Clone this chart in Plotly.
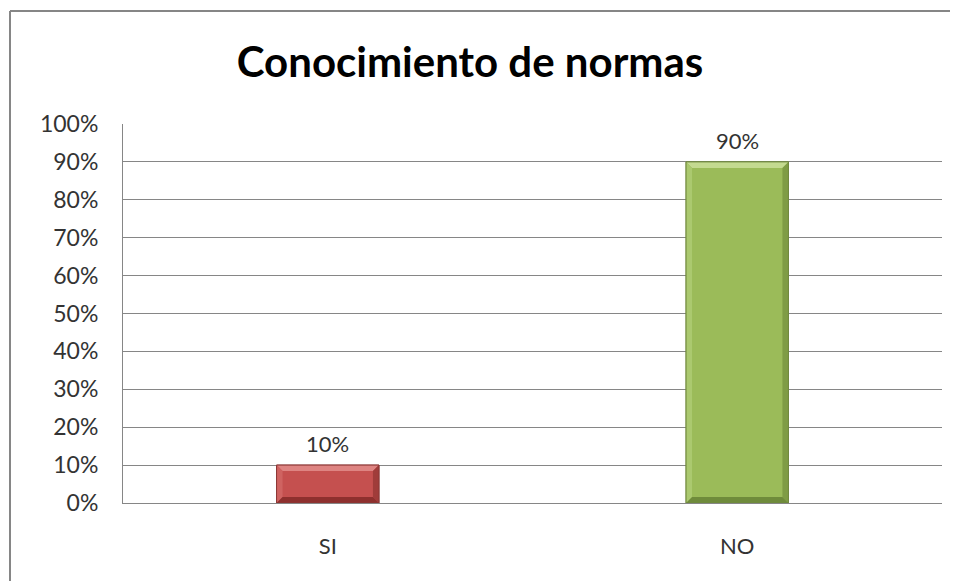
import plotly.graph_objects as go

categories = ["SI", "NO"]
values = [10, 90]
value_labels = ["10%", "90%"]
face_colors = ["#C5504F", "#9BBB59"]
top_colors = ["#DE8482", "#C4DA90"]
left_colors = ["#CF6361", "#ABC96F"]
right_colors = ["#A03C3A", "#7F9C45"]
bottom_colors = ["#8E302E", "#6F8B3B"]
edge_colors = ["#8C3836", "#71893F"]
y_ticks = list(range(0, 101, 10))

BAR_W = 0.25
PLOT_W_PX = 819
PLOT_H_PX = 379
X_RANGE = 2.0
Y_RANGE = 100.0
BEV_PX = 6
PAGE_OFF = 8  # default body margin of the html page

xs = list(range(len(categories)))

fig = go.Figure()
fig.add_trace(go.Bar(
    x=xs, y=values, width=BAR_W,
    marker=dict(color=face_colors, line=dict(color=edge_colors, width=1)),
    hoverinfo="skip",
))

annotations = []
for i, v in enumerate(values):
    annotations.append(dict(x=xs[i], y=v, xref="x", yref="y", text=value_labels[i],
                            showarrow=False, yanchor="bottom", yshift=6,
                            font=dict(family="Lato", size=22, color="#333333")))

dx = BEV_PX * X_RANGE / PLOT_W_PX
dy = BEV_PX * Y_RANGE / PLOT_H_PX
shapes = []
for i, v in enumerate(values):
    x0 = xs[i] - BAR_W / 2
    x1 = xs[i] + BAR_W / 2
    y0, y1 = 0, v
    polys = [
        ([(x0, y1), (x1, y1), (x1 - dx, y1 - dy), (x0 + dx, y1 - dy)], top_colors[i]),
        ([(x0, y0), (x0, y1), (x0 + dx, y1 - dy), (x0 + dx, y0 + dy)], left_colors[i]),
        ([(x1, y0), (x1, y1), (x1 - dx, y1 - dy), (x1 - dx, y0 + dy)], right_colors[i]),
        ([(x0, y0), (x1, y0), (x1 - dx, y0 + dy), (x0 + dx, y0 + dy)], bottom_colors[i]),
    ]
    for pts, col in polys:
        path = "M " + " L ".join(f"{px},{py}" for px, py in pts) + " Z"
        shapes.append(dict(type="path", path=path, xref="x", yref="y",
                           fillcolor=col, line=dict(width=0), layer="above"))
    shapes.append(dict(type="rect", xref="x", yref="y", x0=x0, x1=x1, y0=y0, y1=y1,
                       line=dict(color=edge_colors[i], width=1), fillcolor="rgba(0,0,0,0)",
                       layer="above"))

# outer chart border: only the left and top edges are inside the picture
bx0 = (10 - 123) / PLOT_W_PX
by1 = (503 - 11) / PLOT_H_PX
shapes.append(dict(type="line", xref="paper", yref="paper",
                   x0=bx0, x1=(1000 - 123) / PLOT_W_PX, y0=by1, y1=by1,
                   line=dict(color="#868686", width=2), layer="below"))
shapes.append(dict(type="line", xref="paper", yref="paper",
                   x0=bx0, x1=bx0, y0=by1, y1=(503 - 640) / PLOT_H_PX,
                   line=dict(color="#868686", width=2), layer="below"))

W = 958 - PAGE_OFF
H = 581 - PAGE_OFF
fig.update_layout(
    width=W, height=H,
    margin=dict(l=123 - PAGE_OFF, r=W + PAGE_OFF - 942, t=124 - PAGE_OFF, b=H + PAGE_OFF - 503),
    paper_bgcolor="white", plot_bgcolor="white",
    showlegend=False,
    title=dict(text="<b>Conocimiento de normas</b>", x=(470 - PAGE_OFF) / W, xanchor="center",
               y=1 - (62 - PAGE_OFF) / H, yanchor="middle", yref="container",
               font=dict(family="Lato", size=42, color="#000000")),
    font=dict(family="Lato", color="#333333"),
    shapes=shapes,
    annotations=annotations,
    bargap=0.75,
)
fig.update_xaxes(
    range=[-0.5, 1.5], tickvals=xs, ticktext=categories,
    showgrid=False, zeroline=False, showline=True, linecolor="#868686", linewidth=1,
    ticks="", tickfont=dict(family="Lato", size=22, color="#333333"),
    ticklabelstandoff=24, fixedrange=True,
)
fig.update_yaxes(
    range=[0, 100], tickvals=y_ticks, ticktext=[f"{t}%" for t in y_ticks],
    showgrid=True, gridcolor="#868686", gridwidth=1, zeroline=False,
    showline=True, linecolor="#868686", linewidth=1, mirror=False,
    ticks="", tickfont=dict(family="Lato", size=23, color="#333333"),
    ticklabelstandoff=19, fixedrange=True,
)

fig.write_html("out.html")
